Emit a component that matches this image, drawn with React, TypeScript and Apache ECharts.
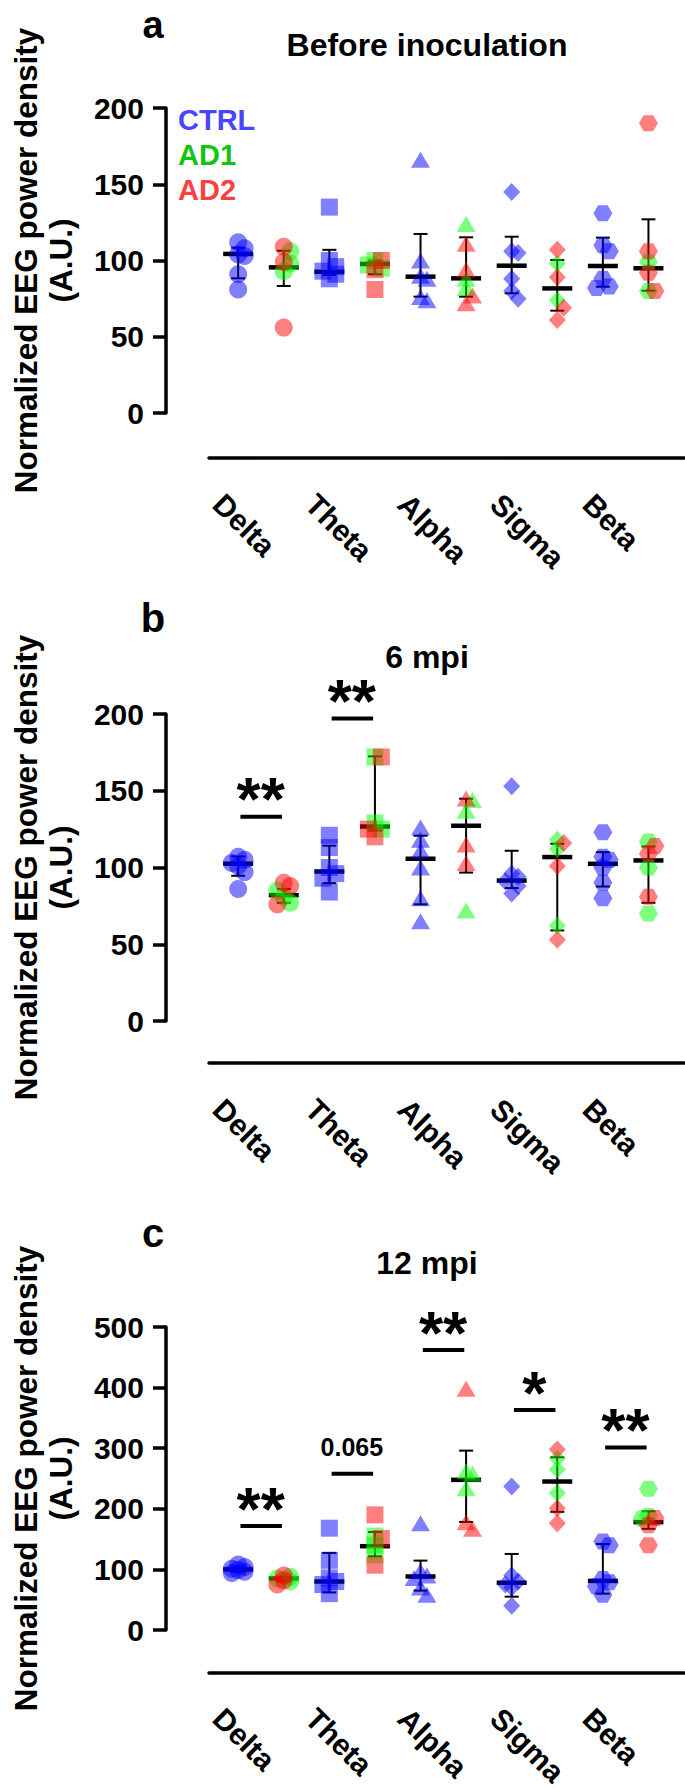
import React, { useEffect, useRef } from 'react';
import * as echarts from 'echarts';

// ---------- DATA ----------
const bands = ['Delta', 'Theta', 'Alpha', 'Sigma', 'Beta'];
const panelTitles = ['Before inoculation', '6 mpi', '12 mpi'];
const panelLetters = ['a', 'b', 'c'];
const groupNames = ['CTRL', 'AD1', 'AD2'];
const yMax = [200, 200, 500];
const yInterval = [50, 50, 100];
const yAxisName = 'Normalized EEG power density\n(A.U.)';

// Panel a : Before inoculation
const ctrlA = [[112, 108, 104, 103, 91, 81], [135, 100, 96, 93, 91, 88], [166, 100, 90, 88, 76, 74], [145, 106, 105, 88, 80, 75], [131, 110, 106, 88, 83, 82]];
const ad1A = [[106, 98, 93], [100, 97, 95], [124, 88, 82], [98, 74], [99, 80]];
const ad2A = [[109, 99, 56], [100, 94, 81], [111, 94, 77, 72], [107, 89, 69, 61], [190, 106, 92, 80]];
const medA = [104.3, 95.5, 92.6, 97.7, 89.4, 88.3, 96.6, 81.7, 96.4, 94.9];
const lowA = [88.3, 83.3, 90.5, 91, 76.3, 76.3, 78.5, 67.1, 82.8, 80.2];
const highA = [108.4, 106.4, 107, 100, 117.4, 115.2, 115.6, 100.3, 115, 127];
const sigBandA: number[] = [];
const sigValA: number[] = [];
const sigTextA: string[] = [];

// Panel b : 6 mpi
const ctrlB = [[107, 105, 103, 101, 97, 86], [121, 113, 100, 96, 93, 84], [126, 118, 111, 100, 80, 65], [153, 96, 94, 91, 88, 83], [123, 107, 105, 100, 90, 80]];
const ad1B = [[85, 81, 77], [172, 129, 125], [144, 137, 72], [118, 112, 62], [117, 100, 70]];
const ad2B = [[90, 88, 76], [172, 125, 120], [145, 115, 103], [116, 101, 53], [114, 109, 81]];
const medB = [102.5, 82, 97.4, 126.7, 105.7, 127.2, 91.5, 106.8, 102.4, 104.6];
const lowB = [94.6, 77, 89.8, 124.1, 76, 96.7, 86.6, 59, 87.6, 77];
const highB = [107.2, 86, 114.2, 172.4, 120.7, 144.8, 110.9, 115.5, 110, 113.7];
const sigBandB = [0, 1];
const sigValB = [133, 197];
const sigTextB = ['**', '**'];

// Panel c : 12 mpi
const ctrlC = [[108, 104, 101, 99, 96, 94], [168, 115, 86, 80, 75, 60], [176, 97, 90, 86, 70, 58], [237, 90, 80, 75, 70, 40], [146, 140, 84, 79, 72, 58]];
const ad1C = [[88, 85, 80], [155, 140, 124], [262, 258, 234], [283, 265, 226], [233, 188, 184]];
const ad2C = [[90, 82, 75], [190, 151, 107], [398, 178, 167], [298, 201, 176], [185, 173, 140]];
const medC = [100, 85, 80, 138.3, 88.3, 247.8, 78, 245, 81, 178];
const lowC = [96, 80, 62, 121.7, 65, 178.3, 55, 195, 60, 167];
const highC = [104, 88, 127.2, 161.7, 114.5, 296, 125.5, 285, 142, 196];
const sigBandC = [0, 1, 2, 3, 4];
const sigValC = [171.6, 258, 462, 363, 301];
const sigTextC = ['**', '0.065', '**', '*', '**'];

// ---------- LAYOUT / STYLE ----------
const W = 685;
const H = 1789;
const FONT = '"Liberation Sans", Arial, Helvetica, sans-serif';
const GRID_LEFT = 203;
const GRID_WIDTH = 481;
const X_MIN = -0.64;
const X_MAX = 9.78;
const PX_PER_IDX = GRID_WIDTH / (X_MAX - X_MIN);
const layout = [
  { top: 108, height: 305, lineOff: 45, letterY: 6, letterVA: 'top', letterSize: 38, titleY: 45 },
  { top: 714, height: 307, lineOff: 42, letterY: 618, letterVA: 'middle', letterSize: 40, titleY: 657 },
  { top: 1327, height: 303, lineOff: 43, letterY: 1233, letterVA: 'middle', letterSize: 40, titleY: 1263 },
];
const groupColors = ['rgba(0,0,255,0.5)', 'rgba(0,255,0,0.5)', 'rgba(255,0,0,0.5)'];
const legendColors = ['#4646fa', '#12c412', '#fa4040'];
const HEX = 'path://M0,0.866L0.5,0L1.5,0L2,0.866L1.5,1.732L0.5,1.732Z';
const bandSymbols = ['circle', 'rect', 'triangle', 'diamond', HEX];
const bandSizes: any[] = [18, 17, [19, 16], [17, 18], [19, 16]];

const panels = [
  { ctrl: ctrlA, ad1: ad1A, ad2: ad2A, med: medA, low: lowA, high: highA, sigBand: sigBandA, sigVal: sigValA, sigText: sigTextA },
  { ctrl: ctrlB, ad1: ad1B, ad2: ad2B, med: medB, low: lowB, high: highB, sigBand: sigBandB, sigVal: sigValB, sigText: sigTextB },
  { ctrl: ctrlC, ad1: ad1C, ad2: ad2C, med: medC, low: lowC, high: highC, sigBand: sigBandC, sigVal: sigValC, sigText: sigTextC },
];

// simple narrow beeswarm: horizontal spread of overlapping points (in index units)
function swarm(values: number[], pxPerVal: number): number[] {
  const order = values.map((_, i) => i).sort((a, b) => values[b] - values[a]);
  const placed: { x: number; y: number }[] = [];
  const offs = values.map(() => 0);
  const cands = [0, 6.5, -6.5];
  const D = 8;
  for (const i of order) {
    const y = values[i] * pxPerVal;
    let best = 0;
    let bestD = -1;
    let chosen: number | null = null;
    for (const dx of cands) {
      const md = placed.length ? Math.min(...placed.map((p) => Math.hypot(p.x - dx, p.y - y))) : Infinity;
      if (md >= D) { chosen = dx; break; }
      if (md > bestD) { bestD = md; best = dx; }
    }
    const dx = chosen === null ? best : chosen;
    offs[i] = dx / PX_PER_IDX;
    placed.push({ x: dx, y });
  }
  return offs;
}

function buildOption() {
  const grid: any[] = [];
  const xAxis: any[] = [];
  const yAxis: any[] = [];
  const series: any[] = [];
  const graphic: any[] = [];

  panels.forEach((pd, p) => {
    const L = layout[p];
    const pxPerVal = L.height / yMax[p];
    grid.push({ left: GRID_LEFT, width: GRID_WIDTH, top: L.top, height: L.height });
    grid.push({ left: 172, width: 462.5, top: L.top + L.height + L.lineOff - 1, height: 1 });

    xAxis.push({
      type: 'value', gridIndex: 2 * p, min: X_MIN, max: X_MAX, offset: L.lineOff,
      axisLine: { show: true, onZero: false, lineStyle: { color: '#000', width: 3.5 } },
      axisTick: { show: false }, axisLabel: { show: false }, splitLine: { show: false },
    });
    xAxis.push({
      type: 'category', gridIndex: 2 * p + 1, data: bands,
      axisLine: { show: false }, axisTick: { show: false }, splitLine: { show: false },
      axisLabel: { interval: 0, rotate: -45, margin: 41, fontSize: 30, fontWeight: 'bold', fontFamily: FONT, color: '#000' },
    });
    yAxis.push({
      type: 'value', gridIndex: 2 * p, min: 0, max: yMax[p], interval: yInterval[p], offset: 43,
      name: yAxisName, nameLocation: 'middle', nameRotate: 90, nameGap: 88,
      nameTextStyle: { fontSize: 31.5, fontWeight: 'bold', fontFamily: FONT, color: '#000', lineHeight: 35 },
      axisLine: { show: true, onZero: false, lineStyle: { color: '#000', width: 3.5 } },
      axisTick: { show: true, length: 13, lineStyle: { color: '#000', width: 3.5 } },
      axisLabel: { margin: 22, fontSize: 30, fontWeight: 'bold', fontFamily: FONT, color: '#000' },
      splitLine: { show: false },
    });
    yAxis.push({ type: 'value', gridIndex: 2 * p + 1, show: false });

    // error bars (median + range)
    const barData = pd.med.map((m, c) => [c, m, pd.low[c], pd.high[c]]);
    series.push({
      type: 'custom', xAxisIndex: 2 * p, yAxisIndex: 2 * p, z: 2, silent: true,
      encode: { x: 0, y: [1, 2, 3] }, data: barData,
      renderItem: (params: any, api: any) => {
        const x = api.value(0);
        const pm = api.coord([x, api.value(1)]);
        const plo = api.coord([x, api.value(2)]);
        const phi = api.coord([x, api.value(3)]);
        const st = { stroke: '#000', lineWidth: 2 };
        return {
          type: 'group', children: [
            { type: 'line', shape: { x1: pm[0], y1: plo[1], x2: pm[0], y2: phi[1] }, style: st },
            { type: 'line', shape: { x1: pm[0] - 7, y1: plo[1], x2: pm[0] + 7, y2: plo[1] }, style: st },
            { type: 'line', shape: { x1: pm[0] - 7, y1: phi[1], x2: pm[0] + 7, y2: phi[1] }, style: st },
            { type: 'line', shape: { x1: pm[0] - 15, y1: pm[1], x2: pm[0] + 15, y2: pm[1] }, style: { stroke: '#000', lineWidth: 4.5 } },
          ],
        };
      },
    });

    // points
    const pts: any[][] = [[], [], []];
    bands.forEach((_, k) => {
      const cOffs = swarm(pd.ctrl[k], pxPerVal);
      pd.ctrl[k].forEach((v, i) => pts[0].push({ value: [2 * k + cOffs[i], v], symbol: bandSymbols[k], symbolSize: bandSizes[k] }));
      const adVals = pd.ad1[k].concat(pd.ad2[k]);
      const aOffs = swarm(adVals, pxPerVal);
      const n1 = pd.ad1[k].length;
      pd.ad1[k].forEach((v, i) => pts[1].push({ value: [2 * k + 1 + aOffs[i], v], symbol: bandSymbols[k], symbolSize: bandSizes[k] }));
      pd.ad2[k].forEach((v, i) => pts[2].push({ value: [2 * k + 1 + aOffs[n1 + i], v], symbol: bandSymbols[k], symbolSize: bandSizes[k] }));
    });
    [0, 1, 2].forEach((g) => {
      series.push({
        type: 'scatter', name: groupNames[g], xAxisIndex: 2 * p, yAxisIndex: 2 * p, z: 3, silent: true,
        itemStyle: { color: groupColors[g], opacity: 1 }, data: pts[g],
      });
    });

    // significance bars
    if (pd.sigBand.length) {
      series.push({
        type: 'custom', xAxisIndex: 2 * p, yAxisIndex: 2 * p, z: 4, silent: true,
        encode: { x: [0, 1], y: 2 },
        data: pd.sigBand.map((b, i) => [2 * b + 0.05, 2 * b + 0.96, pd.sigVal[i]]),
        renderItem: (params: any, api: any) => {
          const p0 = api.coord([api.value(0), api.value(2)]);
          const p1 = api.coord([api.value(1), api.value(2)]);
          const txt = pd.sigText[params.dataIndex];
          const isStar = txt.indexOf('*') >= 0;
          return {
            type: 'group', children: [
              { type: 'line', shape: { x1: p0[0], y1: p0[1], x2: p1[0], y2: p1[1] }, style: { stroke: '#000', lineWidth: 4 } },
              {
                type: 'text', x: (p0[0] + p1[0]) / 2 - 0.5, y: p0[1] - (isStar ? 18 : 27),
                style: {
                  text: txt, fill: '#000', fontSize: isStar ? 62 : 25, fontWeight: 'bold', fontFamily: FONT,
                  align: 'center', verticalAlign: 'middle',
                },
              },
            ],
          };
        },
      });
    }

    graphic.push({
      type: 'text', x: 153, y: L.letterY,
      style: { text: panelLetters[p], fontSize: L.letterSize, fontWeight: 'bold', fontFamily: FONT, fill: '#000', align: 'center', verticalAlign: L.letterVA, textAlign: 'center', textVerticalAlign: L.letterVA },
    });
    graphic.push({
      type: 'text', x: 427, y: L.titleY,
      style: { text: panelTitles[p], fontSize: 32, fontWeight: 'bold', fontFamily: FONT, fill: '#000', align: 'center', verticalAlign: 'middle', textAlign: 'center', textVerticalAlign: 'middle' },
    });
  });

  // legend texts (panel a)
  groupNames.forEach((g, i) => {
    graphic.push({
      type: 'text', x: 178, y: 120 + i * 35,
      style: { text: g, fontSize: 29, fontWeight: 'bold', fontFamily: FONT, fill: legendColors[i], align: 'left', verticalAlign: 'middle', textAlign: 'left', textVerticalAlign: 'middle' },
    });
  });

  return { animation: false, backgroundColor: '#fff', grid, xAxis, yAxis, series, graphic };
}

export default function App() {
  const ref = useRef<HTMLDivElement>(null);
  useEffect(() => {
    document.body.style.margin = '0';
    const chart = echarts.init(ref.current as HTMLDivElement, null, { renderer: 'svg', width: W, height: H });
    chart.setOption(buildOption() as any);
    return () => chart.dispose();
  }, []);
  return <div ref={ref} style={{ position: 'absolute', left: 0, top: 0, width: W, height: H, background: '#fff' }} />;
}
